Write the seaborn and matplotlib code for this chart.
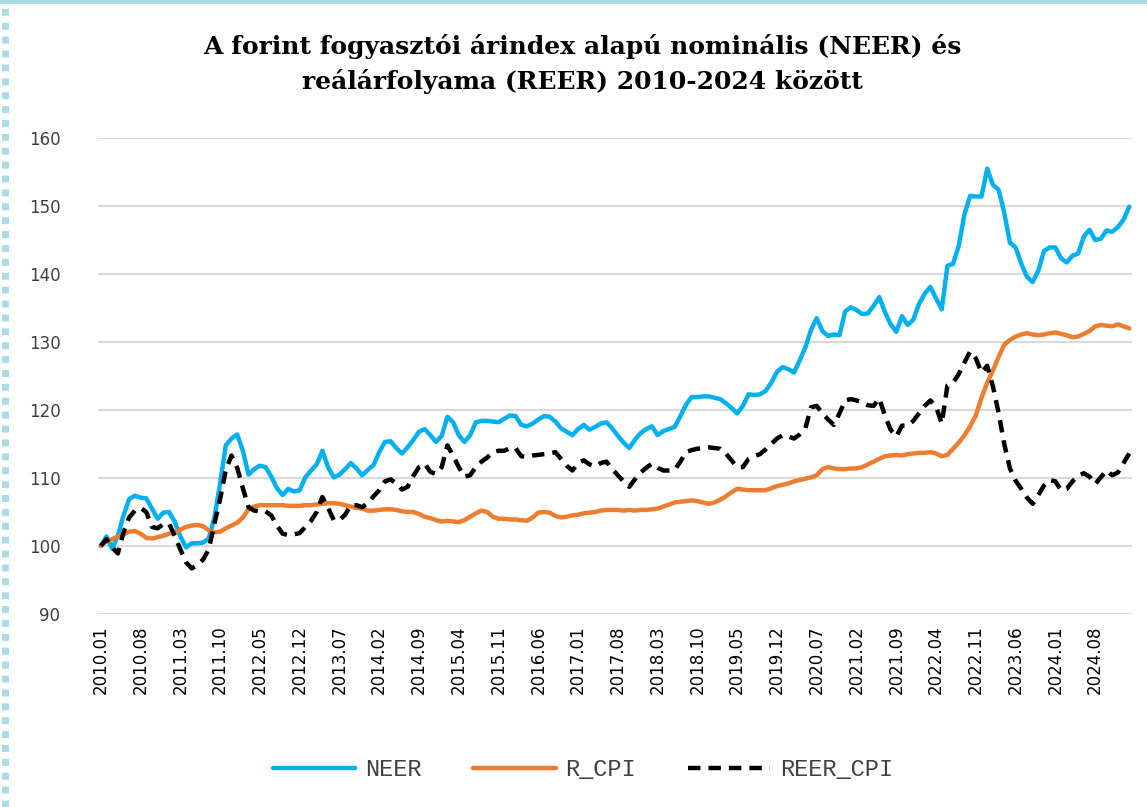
import numpy as np
import pandas as pd
import seaborn as sns
import matplotlib.pyplot as plt
from matplotlib.lines import Line2D

# havi adatok 2010.01 - 2025.02 (index 2010.01 = 100)
honapok = [f"{2010 + k // 12}.{k % 12 + 1:02d}" for k in range(182)]

neer = [
    100, 101.4, 99.6, 101.5, 104.5, 106.9, 107.4, 107.1, 107, 105.5, 104, 104.9,
    105, 103.6, 101.4, 99.8, 100.4, 100.4, 100.5, 101.1, 104.2, 109.2, 114.8, 115.8,
    116.4, 114, 110.5, 111.3, 111.8, 111.6, 110.2, 108.5, 107.5, 108.4, 108, 108.2,
    110.1, 111.1, 112, 114, 111.6, 110.1, 110.5, 111.3, 112.2, 111.4, 110.4, 111.2,
    111.9, 113.8, 115.3, 115.4, 114.4, 113.6, 114.5, 115.6, 116.8, 117.2, 116.3, 115.3,
    116.2, 119, 118.2, 116.3, 115.3, 116.3, 118.2, 118.4, 118.4, 118.3, 118.2, 118.7,
    119.2, 119.1, 117.8, 117.6, 118, 118.6, 119.1, 119, 118.3, 117.3, 116.8, 116.3,
    117.2, 117.8, 117.1, 117.5, 118, 118.2, 117.3, 116.2, 115.2, 114.4, 115.6, 116.6,
    117.2, 117.6, 116.3, 116.9, 117.2, 117.5, 119.1, 120.8, 121.9, 121.9, 122, 122,
    121.8, 121.6, 121, 120.3, 119.5, 120.6, 122.3, 122.2, 122.3, 122.8, 124, 125.6,
    126.3, 126, 125.5, 127.3, 129.2, 131.8, 133.5, 131.6, 130.9, 131.1, 131, 134.5,
    135.1, 134.7, 134.1, 134.2, 135.3, 136.6, 134.4, 132.6, 131.5, 133.8, 132.5, 133.3,
    135.6, 137.1, 138.1, 136.4, 134.8, 141.2, 141.5, 144.2, 148.8, 151.5, 151.4, 151.4,
    155.5, 153.1, 152.4, 149, 144.6, 143.9, 141.5, 139.6, 138.8, 140.5, 143.4, 143.9,
    143.9, 142.3, 141.7, 142.7, 143, 145.5, 146.5, 145, 145.2, 146.4, 146.2, 146.9,
    148, 149.9,
]

r_cpi = [
    100, 100.7, 101, 101.4, 101.7, 102.1, 102.2, 101.8, 101.2, 101.1, 101.3, 101.5,
    101.8, 102, 102.4, 102.8, 103, 103.1, 102.9, 102.3, 102, 102.1, 102.6, 103,
    103.4, 104.2, 105.4, 105.8, 106, 106, 106, 106, 106, 105.9, 105.9, 105.9,
    106, 106, 106.1, 106.2, 106.3, 106.3, 106.2, 106, 105.8, 105.6, 105.5, 105.2,
    105.2, 105.3, 105.4, 105.4, 105.3, 105.1, 105, 105, 104.7, 104.3, 104.1, 103.8,
    103.6, 103.7, 103.6, 103.5, 103.8, 104.3, 104.8, 105.2, 105, 104.3, 104, 104,
    103.9, 103.9, 103.8, 103.7, 104.2, 104.9, 105, 104.9, 104.4, 104.2, 104.3, 104.5,
    104.6, 104.8, 104.9, 105, 105.2, 105.3, 105.3, 105.3, 105.2, 105.3, 105.2, 105.3,
    105.3, 105.4, 105.5, 105.8, 106.1, 106.4, 106.5, 106.6, 106.7, 106.6, 106.4, 106.2,
    106.4, 106.8, 107.3, 107.9, 108.4, 108.3, 108.2, 108.2, 108.2, 108.2, 108.5, 108.8,
    109, 109.2, 109.5, 109.7, 109.9, 110.1, 110.4, 111.3, 111.6, 111.4, 111.3, 111.3,
    111.4, 111.4, 111.6, 112, 112.4, 112.8, 113.2, 113.3, 113.4, 113.3, 113.5, 113.6,
    113.7, 113.7, 113.8, 113.6, 113.2, 113.4, 114.3, 115.2, 116.3, 117.6, 119.2, 121.8,
    124, 125.8, 127.8, 129.6, 130.3, 130.8, 131.1, 131.3, 131.1, 131, 131.1, 131.3,
    131.4, 131.2, 131, 130.7, 130.8, 131.2, 131.6, 132.3, 132.5, 132.4, 132.3, 132.6,
    132.3, 132,
]

reer_cpi = [
    100, 101, 99.8, 98.9, 102, 104.2, 105.2, 105.6, 105, 102.8, 102.6, 103.2,
    103.3, 101.5, 99.5, 97.6, 96.7, 97.2, 98, 99.5, 103.3, 106.9, 111.2, 113.3,
    111.5, 108.5, 105.7, 105.2, 105.1, 105.1, 104.5, 103, 101.8, 101.6, 101.7, 101.9,
    102.8, 103.7, 105, 107.2, 105.6, 103.8, 103.8, 104.6, 106, 106, 105.7, 106.3,
    107.3, 108.2, 109.5, 109.8, 109.2, 108.3, 108.7, 110.3, 111.6, 112.1, 110.9, 110.6,
    111.6, 114.8, 113.3, 111.6, 110.2, 110.4, 111.6, 112.4, 113, 113.8, 114, 114,
    114.4, 114.4, 113.2, 113.1, 113.3, 113.4, 113.5, 113.6, 113.8, 112.8, 111.8, 111.1,
    112.2, 112.6, 112, 111.7, 112.2, 112.4, 111.3, 110.4, 109.5, 108.7, 109.8, 110.8,
    111.5, 112.1, 111.5, 111.1, 111.1, 111.2, 112.4, 113.8, 114.1, 114.3, 114.4, 114.5,
    114.4, 114.3, 113.6, 112.6, 111.6, 111.6, 112.8, 113.2, 113.5, 114.2, 115, 115.8,
    116.3, 116.1, 115.8, 116.4, 117.3, 120.4, 120.6, 119.5, 118.6, 117.8, 119.5, 121.4,
    121.6, 121.4, 121.1, 120.7, 120.6, 121.7, 119.2, 117.1, 116.1, 117.7, 117.7, 118.4,
    119.5, 120.6, 121.4, 120.5, 118, 123.6, 124, 125.3, 127, 128.6, 127.6, 125.5,
    126.5, 123.5, 119.6, 115, 111.4, 109.6, 108.4, 107.1, 106.2, 107.5, 108.9, 109.7,
    109.5, 108.2, 108.4, 109.5, 110.3, 110.7, 110.2, 109.1, 110.1, 111.1, 110.4, 110.8,
    112.2, 113.6,
]

df = pd.DataFrame({"idx": np.arange(len(honapok)), "honap": honapok,
                   "NEER": neer, "R_CPI": r_cpi, "REER_CPI": reer_cpi})

sns.set_style("white")
plt.rcParams["font.family"] = ["DejaVu Sans"]

fig = plt.figure(figsize=(11.47, 8.07), dpi=100)
ax = fig.add_axes([0.0854, 0.2392, 0.9016, 0.5898])

sns.lineplot(data=df, x="idx", y="NEER", ax=ax, color="#00b0f0", linewidth=3.2, label="NEER")
sns.lineplot(data=df, x="idx", y="R_CPI", ax=ax, color="#ed7d31", linewidth=3.2, label="R_CPI")
sns.lineplot(data=df, x="idx", y="REER_CPI", ax=ax, color="black", linewidth=3.2,
             linestyle=(0, (2.8, 1.8)), label="REER_CPI")

ax.set_xlim(-0.5, len(honapok) - 0.5)
ax.set_ylim(90, 160)
ax.set_yticks(range(90, 161, 10))
ax.set_xticks(df["idx"][::7])
ax.set_xticklabels(df["honap"][::7], rotation=90, fontsize=12, color="black")
ax.tick_params(axis="y", labelsize=12, labelcolor="#404040", length=0, pad=27)
ax.tick_params(axis="x", length=0, pad=8)
ax.grid(axis="y", color="#d9d9d9", linewidth=1.5)
ax.set_axisbelow(True)
for s in ax.spines.values():
    s.set_visible(False)
ax.set_xlabel("")
ax.set_ylabel("")

fig.suptitle("A forint fogyasztói árindex alapú nominális (NEER) és\nreálárfolyama (REER) 2010-2024 között",
             x=0.508, y=0.958, fontsize=18, fontweight="bold", family="DejaVu Serif",
             color="black", linespacing=1.5)

ax.legend(loc="center", bbox_to_anchor=(0.508, 0.046), bbox_transform=fig.transFigure,
          ncol=3, frameon=False, handlelength=3.5, handletextpad=0.4, columnspacing=2.2,
          prop={"family": "Liberation Mono", "size": 17}, labelcolor="#404040")

# keret díszítés
fig.add_artist(Line2D([0, 1], [0.997, 0.997], transform=fig.transFigure,
                      color="#a8dde6", linewidth=3))
fig.add_artist(Line2D([0.004, 0.004], [0, 1], transform=fig.transFigure,
                      color="#a8dde6", linewidth=5, linestyle=(0, (1, 1))))

fig.savefig("out.png", dpi=100)
